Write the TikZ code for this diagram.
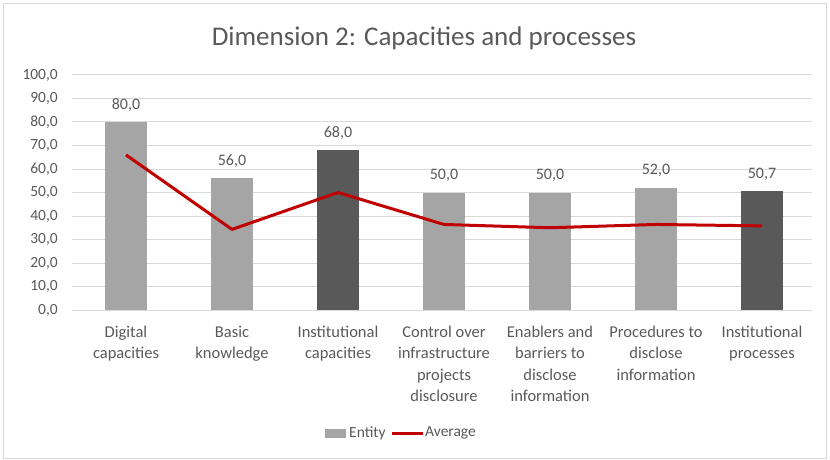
\documentclass[tikz,border=0pt]{standalone}
\usepackage{fontspec}
\setmainfont{Carlito}
\definecolor{txt}{HTML}{595959}
\definecolor{grid}{HTML}{D9D9D9}
\definecolor{lightbar}{HTML}{A5A5A5}
\definecolor{darkbar}{HTML}{595959}
\definecolor{avg}{HTML}{C00000}
\begin{document}
\begin{tikzpicture}[x=1pt,y=-1pt,
  every node/.style={text=txt,font=\fontsize{15.5}{21.3}\selectfont,inner sep=0pt},
  gridline/.style={draw=grid,line width=1pt},
  ylab/.style={anchor=east},
  bar/.style={fill=lightbar,draw=none},
  darkb/.style={fill=darkbar,draw=none},
  vlab/.style={anchor=center,font=\fontsize{16}{20}\selectfont},
  catlab/.style={anchor=north,align=center,font=\fontsize{16.5}{21.3}\selectfont},
  avgline/.style={draw=avg,line width=3pt,line join=round}]
\useasboundingbox (0,0) rectangle (830,460);
\draw[draw=grid,line width=1pt] (3.5,3.5) rectangle (826.5,458);
\node (title) at (424,38) {\fontsize{27}{32}\selectfont Dimension 2: Capacities and processes};
% gridlines and y labels
\foreach \v/\t in {0/{0,0},10/{10,0},20/{20,0},30/{30,0},40/{40,0},50/{50,0},60/{60,0},70/{70,0},80/{80,0},90/{90,0},100/{100,0}}{
  \draw[gridline] (72,{310-2.35*\v}) -- (812,{310-2.35*\v});
  \node[ylab] (y\v) at (58,{310-2.35*\v}) {\t};
}
% bars
\foreach \i/\v/\s in {1/80/bar,2/56/bar,3/68/darkb,4/50/bar,5/50/bar,6/52/bar,7/50.7/darkb}{
  \path[\s] ({126+106*(\i-1)-21},310) rectangle ({126+106*(\i-1)+21},{310-2.35*\v});
  \coordinate (b\i) at ({126+106*(\i-1)},{310-2.35*\v});
}
\draw[gridline] (72,310) -- (812,310);
% value labels
\node[vlab] (l1) at ([yshift=17pt]b1) {80,0};
\node[vlab] (l2) at ([yshift=17pt]b2) {56,0};
\node[vlab] (l3) at ([yshift=17pt]b3) {68,0};
\node[vlab] (l4) at ([yshift=17pt]b4) {50,0};
\node[vlab] (l5) at ([yshift=17pt]b5) {50,0};
\node[vlab] (l6) at ([yshift=17pt]b6) {52,0};
\node[vlab] (l7) at ([yshift=17pt]b7) {50,7};
% average line
\foreach \i/\v in {1/66,2/34.3,3/50,4/36.4,5/35,6/36.4,7/35.8}{
  \coordinate (a\i) at ({126+106*(\i-1)},{310-2.35*\v});
}
\draw[avgline] (a1) -- (a2) -- (a3) -- (a4) -- (a5) -- (a6) -- (a7);
% category labels
\node[catlab] (c1) at (126,326) {Digital\\capacities};
\node[catlab] (c2) at (232,326) {Basic\\knowledge};
\node[catlab] (c3) at (338,326) {Institutional\\capacities};
\node[catlab] (c4) at (444,326) {Control over\\infrastructure\\projects\\disclosure};
\node[catlab] (c5) at (550,326) {Enablers and\\barriers to\\disclose\\information};
\node[catlab] (c6) at (656,326) {Procedures to\\disclose\\information};
\node[catlab] (c7) at (762,326) {Institutional\\processes};
% legend
\path[bar] (325,428.5) rectangle (346,437.5);
\node[anchor=west] (le) at (349,433) {Entity};
\draw[draw=avg,line width=3pt] (392,433) -- (423,433) coordinate (lr);
\node[anchor=west] (la) at (425,433) {Average};
\end{tikzpicture}
\end{document}
